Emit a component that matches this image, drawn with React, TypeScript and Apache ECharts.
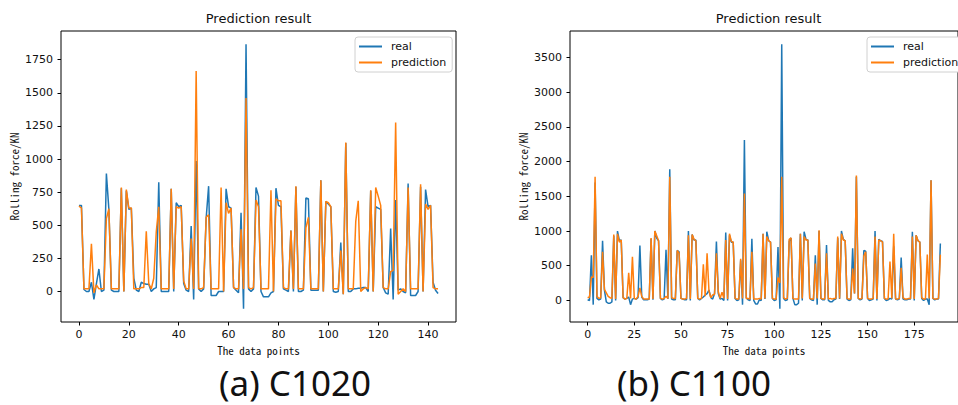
import React, { useEffect, useRef } from "react";
import * as echarts from "echarts";

// (a) C1020 — 145 data points
const realA = [
  650, 650, 15, 0, 0, 70, -60, 60, 170, 0,
  10, 890, 620, 10, 0, 0, 0, 780, 0, 760,
  620, 630, 100, 10, 0, 70, 60, 55, 55, 0,
  20, 30, 825, 0, 0, 0, 0, 775, 0, 670,
  640, 650, 60, 10, 0, 495, -60, 985, 20, 0,
  20, 550, 795, -30, -30, -30, 0, 0, 0, 775,
  640, 630, 30, 10, -10, 595, -130, 1866, 20, 0,
  20, 785, 720, 0, -40, -40, -40, -10, 0, 780,
  650, 640, 20, 10, 0, 460, 0, 790, 0, 0,
  10, 705, 700, 10, 10, 10, 10, 840, 0, 680,
  660, 640, 0, -5, 0, 370, -20, 1120, 0, 0,
  20, 20, 25, 25, 30, 30, 0, 760, 0, 640,
  630, 620, 30, -10, -20, 475, -60, 690, 10, 20,
  0, -10, 815, -30, -30, -30, 0, 790, 0, 770,
  640, 650, 70, 10, -15,
];
const predA = [
  645, 630, 20, 20, 20, 360, -10, 50, 20, 20,
  20, 550, 625, 20, 20, 20, 20, 785, 0, 770,
  630, 630, 20, 20, 20, 30, 30, 455, 60, 20,
  100, 450, 640, 20, 20, 20, 20, 775, 20, 640,
  630, 640, 80, 20, 20, 400, 20, 1665, 20, 20,
  30, 560, 580, 20, 20, 20, 20, 785, 0, 670,
  590, 630, 30, 20, 20, 470, 20, 1460, 30, 20,
  30, 690, 640, 20, 20, 20, 20, 765, 0, 700,
  685, 685, 30, 20, 20, 460, 20, 795, 20, 20,
  20, 480, 560, 20, 20, 20, 20, 840, 0, 680,
  670, 640, 20, 20, 20, 310, -20, 1125, 20, 20,
  20, 530, 685, 0, 20, 30, 20, 765, 0, 785,
  720, 650, 30, 20, 20, 150, 160, 1275, -20, 0,
  20, 0, 785, 20, 20, 20, 20, 810, 0, 660,
  620, 650, 30, 20, 20,
];

// (b) C1100 — 190 data points
const realB = [
  10, 0, 650, -60, 1700, 30, 10, 20, 860, 150,
  -20, -40, -40, -20, 930, 0, 1000, 860, 870, 40,
  20, 30, 50, -60, 20, 30, 20, 40, 790, 50,
  10, 10, 10, 20, 890, 10, 1000, 900, 860, 30,
  10, 20, 730, 20, 1890, 20, 10, 10, 720, 700,
  30, 20, 10, 10, 1000, 0, 950, 870, 870, 30,
  10, 30, 50, 80, 100, 150, 40, 20, 100, 850,
  100, 20, 30, 0, 980, 0, 940, 840, 840, 30,
  0, 10, 580, -60, 2310, 40, 10, 0, 890, 0,
  -50, -50, 10, 0, 960, 20, 990, 860, 840, 30,
  0, 10, 770, -120, 3690, 30, 0, 10, 850, 900,
  30, -60, -60, -40, 960, 0, 990, 880, 870, 30,
  10, 0, 650, -60, 1000, 30, 10, 10, 800, 0,
  -20, -20, 10, 20, 900, 20, 1000, 880, 860, 20,
  0, 10, 750, 100, 1780, 30, 10, 20, 720, 710,
  30, 0, 10, 20, 1000, 0, 880, 860, 850, 30,
  0, 10, 30, 20, 780, 20, 10, 20, 620, 20,
  10, 10, 20, 20, 990, 0, 940, 860, 840, 30,
  0, 20, 20, -60, 1730, 30, 10, 20, 20, 820,
];
const predB = [
  40, 50, 340, 330, 1780, 60, 30, 40, 700, 160,
  110, 60, 40, 30, 950, 20, 960, 840, 870, 40,
  20, 30, 400, 30, 630, 30, 20, 60, 180, 60,
  20, 20, 20, 20, 900, 20, 1000, 930, 860, 30,
  20, 30, 60, 30, 1780, 40, 30, 30, 720, 680,
  30, 20, 20, 30, 940, 20, 950, 880, 860, 30,
  20, 30, 520, 60, 680, 140, 40, 80, 90, 680,
  130, 30, 120, 30, 870, 20, 960, 850, 840, 30,
  20, 20, 600, 30, 1540, 30, 30, 20, 700, 20,
  20, 20, 30, 20, 960, 30, 920, 860, 840, 30,
  20, 20, 330, 250, 1780, 40, 20, 30, 880, 900,
  30, 20, 20, 20, 960, 30, 920, 870, 870, 30,
  20, 20, 530, 30, 1010, 30, 20, 20, 680, 20,
  30, 20, 30, 30, 920, 30, 960, 870, 860, 30,
  20, 20, 460, 100, 1800, 30, 20, 30, 640, 700,
  30, 20, 20, 30, 920, 20, 870, 860, 840, 30,
  20, 20, 560, 30, 960, 20, 20, 30, 470, 40,
  20, 20, 30, 30, 920, 20, 940, 860, 840, 40,
  20, 20, 660, 30, 1730, 30, 20, 20, 30, 660,
];

const xTicksA = [0, 20, 40, 60, 80, 100, 120, 140];
const yTicksA = [0, 250, 500, 750, 1000, 1250, 1500, 1750];
const xTicksB = [0, 25, 50, 75, 100, 125, 150, 175];
const yTicksB = [0, 500, 1000, 1500, 2000, 2500, 3000, 3500];

const seriesNames = ["real", "prediction"];
const captions = ["(a) C1020", "(b) C1100"];
const chartTitle = "Prediction result";
const xName = "The data points";
const yName = "Rolling force/KN";

const BLUE = "#1f77b4";
const ORANGE = "#ff7f0e";
const FONT = "'DejaVu Sans', sans-serif";
const MONO = "'Noto Sans Mono CJK SC', 'DejaVu Sans Mono', monospace";

const toPairs = (arr: number[]) => arr.map((v, i) => [i, v]);
const plain = (v: number) => String(v);

function makeX(idx: number, min: number, max: number, ticks: number[]) {
  return {
    type: "value",
    gridIndex: idx,
    min,
    max,
    axisLine: { show: false, onZero: false },
    splitLine: { show: false },
    axisTick: {
      show: true,
      customValues: ticks,
      length: 3.5,
      lineStyle: { color: "#000", width: 1 },
    },
    axisLabel: {
      customValues: ticks,
      formatter: plain,
      fontSize: 11,
      color: "#111",
      fontFamily: FONT,
      margin: 7,
    },
    name: xName,
    nameLocation: "middle",
    nameGap: 20,
    nameTextStyle: { fontFamily: MONO, fontSize: 11, color: "#111" },
  };
}

function makeY(idx: number, min: number, max: number, ticks: number[]) {
  return {
    type: "value",
    gridIndex: idx,
    min,
    max,
    axisLine: { show: false, onZero: false },
    splitLine: { show: false },
    axisTick: {
      show: true,
      customValues: ticks,
      length: 3.5,
      lineStyle: { color: "#000", width: 1 },
    },
    axisLabel: {
      customValues: ticks,
      formatter: plain,
      fontSize: 11,
      color: "#111",
      fontFamily: FONT,
      margin: 8,
    },
    name: yName,
    nameLocation: "middle",
    nameRotate: 90,
    nameGap: 42,
    nameTextStyle: { fontFamily: MONO, fontSize: 11, color: "#111" },
  };
}

function makeLegend(left: number) {
  return {
    show: true,
    data: seriesNames,
    orient: "vertical",
    left,
    top: 37,
    icon: "rect",
    itemWidth: 23,
    itemHeight: 2,
    itemGap: 1,
    padding: [2, 6, 2, 4],
    backgroundColor: "#fff",
    borderColor: "#d0d0d0",
    borderWidth: 1,
    borderRadius: 3,
    textStyle: {
      fontSize: 11,
      fontFamily: FONT,
      color: "#111",
      lineHeight: 15,
      padding: [0, 0, 0, 4],
    },
  };
}

export default function App() {
  const ref = useRef<HTMLDivElement>(null);
  useEffect(() => {
    if (!ref.current) return;
    const chart = echarts.init(ref.current, null, { renderer: "svg" });
    const lineStyle = (c: string) => ({ color: c, width: 1.5 });
    const capStyle = {
      fontSize: 35,
      lineHeight: 35,
      fontFamily: "'Noto Sans', sans-serif",
      fill: "#111",
      align: "center",
      verticalAlign: "middle",
    };
    chart.setOption({
      animation: false,
      backgroundColor: "#fff",
      title: [
        {
          text: chartTitle,
          left: 258.5,
          top: 12,
          padding: 0,
          textAlign: "center",
          textStyle: { fontSize: 13, fontWeight: "normal", fontFamily: FONT, color: "#111" },
        },
        {
          text: chartTitle,
          left: 768.5,
          top: 12,
          padding: 0,
          textAlign: "center",
          textStyle: { fontSize: 13, fontWeight: "normal", fontFamily: FONT, color: "#111" },
        },
      ],
      legend: [makeLegend(355), makeLegend(867)],
      grid: [
        { left: 61, top: 31, width: 395, height: 291, show: true, borderColor: "#000", borderWidth: 1, backgroundColor: "transparent" },
        { left: 570, top: 31, width: 397, height: 291, show: true, borderColor: "#000", borderWidth: 1, backgroundColor: "transparent" },
      ],
      xAxis: [makeX(0, -7.2, 151.2, xTicksA), makeX(1, -9.45, 198.45, xTicksB)],
      yAxis: [makeY(0, -230, 1966, yTicksA), makeY(1, -310, 3880, yTicksB)],
      series: [
        { name: seriesNames[0], type: "line", xAxisIndex: 0, yAxisIndex: 0, data: toPairs(realA), showSymbol: false, symbol: "none", lineStyle: lineStyle(BLUE), itemStyle: { color: BLUE }, z: 2 },
        { name: seriesNames[1], type: "line", xAxisIndex: 0, yAxisIndex: 0, data: toPairs(predA), showSymbol: false, symbol: "none", lineStyle: lineStyle(ORANGE), itemStyle: { color: ORANGE }, z: 3 },
        { name: seriesNames[0], type: "line", xAxisIndex: 1, yAxisIndex: 1, data: toPairs(realB), showSymbol: false, symbol: "none", lineStyle: lineStyle(BLUE), itemStyle: { color: BLUE }, z: 2 },
        { name: seriesNames[1], type: "line", xAxisIndex: 1, yAxisIndex: 1, data: toPairs(predB), showSymbol: false, symbol: "none", lineStyle: lineStyle(ORANGE), itemStyle: { color: ORANGE }, z: 3 },
      ],
      graphic: [
        { type: "text", x: 295, y: 382, style: { ...capStyle, text: captions[0] } },
        { type: "text", x: 694, y: 382, style: { ...capStyle, text: captions[1] } },
      ],
    });
    return () => chart.dispose();
  }, []);
  return (
    <div
      ref={ref}
      style={{ position: "fixed", left: 0, top: 0, width: 958, height: 405, background: "#fff" }}
    />
  );
}
